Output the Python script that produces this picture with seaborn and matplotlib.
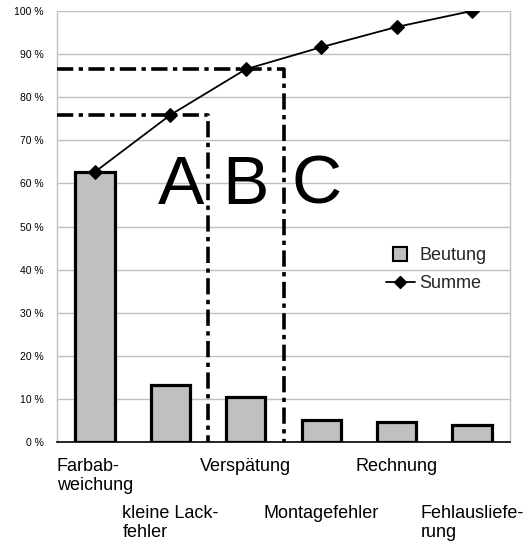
import numpy as np
import pandas as pd
import matplotlib
matplotlib.use("Agg")
import matplotlib.pyplot as plt
from matplotlib.lines import Line2D
import seaborn as sns

# Pareto data: share of each complaint type and running total (percent)
categories = ["Farbab-\nweichung", "kleine Lack-\nfehler", "Verspätung",
              "Montagefehler", "Rechnung", "Fehlausliefe-\nrung"]
share = [62.7, 13.2, 10.6, 5.2, 4.6, 4.0]
cumulative = [62.7, 75.9, 86.5, 91.6, 96.3, 100.0]
y_ticks = [0, 10, 20, 30, 40, 50, 60, 70, 80, 90, 100]
y_tick_labels = [f"{v} %" for v in y_ticks]
class_letters = ["A", "B", "C"]
class_letter_x = [1.14, 1.99, 2.94]
legend_labels = ["Beutung", "Summe"]

sns.set_style("white")
plt.rcParams["font.family"] = ["Liberation Sans", "DejaVu Sans"]

df = pd.DataFrame({"Fehler": categories, "Anteil": share, "Summe": cumulative})

fig = plt.figure(figsize=(5.31, 5.48), dpi=100)
ax = fig.add_axes([0.108, 0.193, 0.852, 0.787])

# grid behind everything
ax.set_axisbelow(True)
ax.yaxis.grid(True, color="#c0c0c0", linewidth=1.0)
ax.xaxis.grid(False)

sns.barplot(data=df, x="Fehler", y="Anteil", color="#c0c0c0", saturation=1,
            width=0.52, edgecolor="black", linewidth=2.3, ax=ax, zorder=2)

sns.lineplot(x=np.arange(len(categories)), y=df["Summe"], color="black",
             linewidth=1.3, marker="D", markersize=7, markeredgecolor="black",
             ax=ax, zorder=4)

# ABC class boundaries
dash = dict(color="black", linewidth=2.6, dashes=(4.5, 1.5, 1.2, 1.5), zorder=3)
ax.plot([-0.5, 1.5, 1.5], [cumulative[1], cumulative[1], 0], **dash)
ax.plot([-0.5, 2.5, 2.5], [cumulative[2], cumulative[2], 0], **dash)

for letter, lx in zip(class_letters, class_letter_x):
    ax.text(lx, 59.5, letter, fontsize=50, ha="center", va="center",
            color="black", zorder=5)

ax.set_xlim(-0.5, len(categories) - 0.5)
ax.set_ylim(0, 100)
ax.set_xlabel("")
ax.set_ylabel("")

ax.set_yticks(y_ticks)
ax.set_yticklabels(y_tick_labels, fontsize=7.5)
ax.tick_params(axis="y", direction="out", length=6, width=1, color="#b0b0b0",
               pad=4, labelcolor="black")

ax.set_xticks(range(len(categories)))
ax.set_xticklabels(categories, fontsize=13)
ax.tick_params(axis="x", direction="out", length=5, width=1, color="black",
               labelcolor="black")
for i, (tick, lbl) in enumerate(zip(ax.xaxis.get_major_ticks(),
                                    ax.get_xticklabels())):
    tick.set_pad(6 if i % 2 == 0 else 40)
    lbl.set_multialignment("left")

for side in ["left", "right", "top"]:
    ax.spines[side].set_color("#c0c0c0")
    ax.spines[side].set_linewidth(1.0)
ax.spines["top"].set_visible(False)
ax.spines["bottom"].set_color("black")
ax.spines["bottom"].set_linewidth(1.2)

handles = [
    Line2D([], [], linestyle="none", marker="s", markersize=10,
           markerfacecolor="#c0c0c0", markeredgecolor="black",
           markeredgewidth=1.5),
    Line2D([], [], color="black", linewidth=1.3, marker="D", markersize=6),
]
ax.legend(handles, legend_labels, frameon=False, loc="center left",
          bbox_to_anchor=(0.69, 0.40), fontsize=13, handlelength=1.6,
          handletextpad=0.25, labelspacing=0.6)

fig.savefig("out.png", dpi=100)
